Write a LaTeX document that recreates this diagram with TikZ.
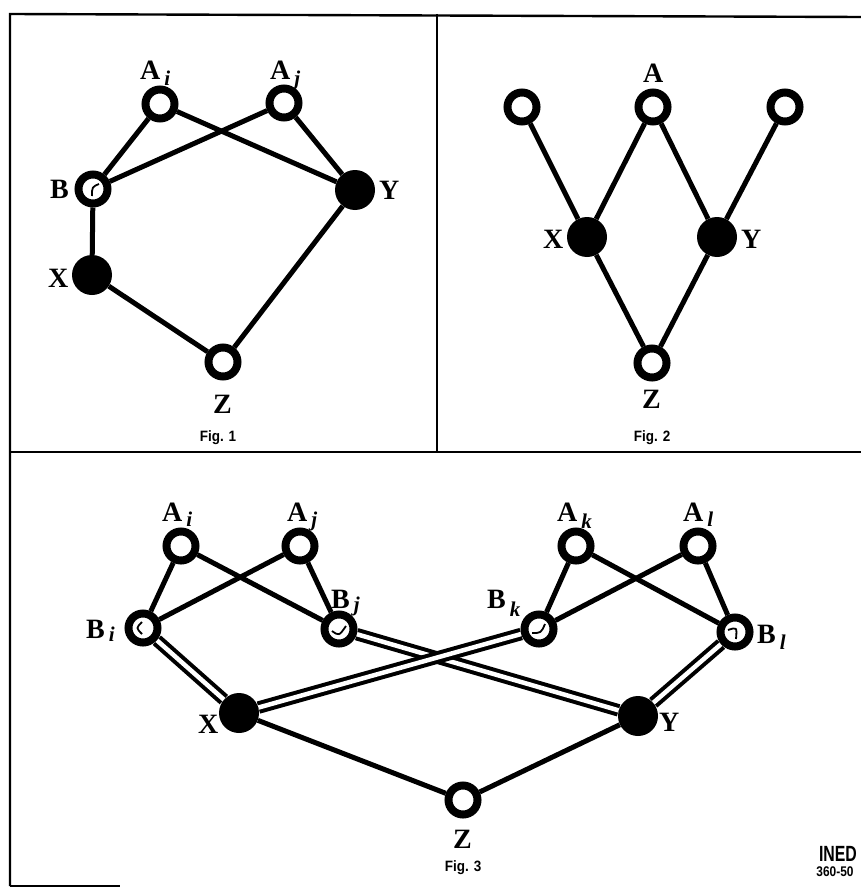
\documentclass[tikz,border=0pt]{standalone}
\usepackage{fontspec}
\setmainfont{Liberation Serif}
\setsansfont{Liberation Sans}
\usetikzlibrary{backgrounds}
% italic index set after a capital letter, lowered by the optional amount
\newcommand\lsub[2][6]{\kern4pt\raisebox{-#1pt}{\fontsize{21}{21}\selectfont\bfseries\itshape #2}}
\begin{document}
\begin{tikzpicture}[x=1pt,y=-1pt,
  open/.style={circle,draw,line width=8pt,fill=white,minimum size=29pt,inner sep=0pt},
  full/.style={circle,fill=black,minimum size=40pt,inner sep=0pt},
  edge/.style={line width=5pt},
  twin/.style={line width=4pt,double=white,double distance=4.5pt},
  lab/.style={font=\fontsize{28}{28}\selectfont\bfseries,inner sep=0pt,anchor=base west},
  figcap/.style={font=\sffamily\bfseries\fontsize{15}{15}\selectfont,inner sep=0pt},
  frame/.style={line width=2.4pt},
  hatch/.style={line width=1.8pt}]
\useasboundingbox (0,0) rectangle (861,888);

% panel frame
\draw[frame] (10,886) -- (10,14) -- (861,17);
\draw[frame] (437,14) -- (437,452);
\draw[frame] (10,452) -- (861,452);
\draw[frame] (10,886) -- (120,886);

% ---------- Fig. 1 ----------
\node[open] (a1i) at (160,104) {};
\node[open] (a1j) at (284,103) {};
\node[open] (b1)  at (93,189) {};
\node[full] (y1)  at (355,190) {};
\node[full] (x1)  at (92,275) {};
\node[open] (z1)  at (223,362) {};
\begin{scope}[on background layer]
  \draw[edge] (a1i) -- (b1);
  \draw[edge] (a1i) -- (y1);
  \draw[edge] (a1j) -- (b1);
  \draw[edge] (a1j) -- (y1);
  \draw[edge] (b1) -- (x1);
  \draw[edge] (x1) -- (z1);
  \draw[edge] (z1) -- (y1);
\end{scope}
\draw[hatch] ([shift={(6,-5)}]b1.center) .. controls ([shift={(-1,-2)}]b1.center) .. ([shift={(-1,7)}]b1.center);
\node[lab] at (140,80) {A\lsub{i}};
\node[lab] at (270,80) {A\lsub{j}};
\node[lab] at (50,198) {B};
\node[lab] at (379,199) {Y};
\node[lab] at (48,287) {X};
\node[lab] at (213,413) {Z};
\node[figcap] at (218,438) {\scalebox{0.9}[1]{Fig. 1}};

% ---------- Fig. 2 ----------
\node[open] (a2l) at (522,107) {};
\node[open] (a2)  at (653,107) {};
\node[open] (a2r) at (785,107) {};
\node[full] (x2)  at (587,237) {};
\node[full] (y2)  at (717,237) {};
\node[open] (z2)  at (652,363) {};
\begin{scope}[on background layer]
  \draw[edge] (a2l) -- (x2);
  \draw[edge] (a2) -- (x2);
  \draw[edge] (a2) -- (y2);
  \draw[edge] (a2r) -- (y2);
  \draw[edge] (x2) -- (z2);
  \draw[edge] (y2) -- (z2);
\end{scope}
\node[lab] at (643,83) {A};
\node[lab] at (543,248) {X};
\node[lab] at (741,248) {Y};
\node[lab] at (642,408) {Z};
\node[figcap] at (652,438) {\scalebox{0.9}[1]{Fig. 2}};

% ---------- Fig. 3 ----------
\node[open] (a3i) at (181,546) {};
\node[open] (a3j) at (300,546) {};
\node[open] (a3k) at (576,546) {};
\node[open] (a3l) at (698,546) {};
\node[open] (b3i) at (143,628) {};
\node[open] (b3j) at (339,629) {};
\node[open] (b3k) at (539,629) {};
\node[open] (b3l) at (735,632) {};
\node[full] (x3)  at (239,713) {};
\node[full] (y3)  at (638,716) {};
\node[open] (z3)  at (463,800) {};
\begin{scope}[on background layer]
  \draw[edge] (a3i) -- (b3i);
  \draw[edge] (a3i) -- (b3j);
  \draw[edge] (a3j) -- (b3i);
  \draw[edge] (a3j) -- (b3j);
  \draw[edge] (a3k) -- (b3k);
  \draw[edge] (a3k) -- (b3l);
  \draw[edge] (a3l) -- (b3k);
  \draw[edge] (a3l) -- (b3l);
  \draw[twin] (b3i) -- (x3);
  \draw[twin] (b3j) -- (y3);
  \draw[twin] (b3k) -- (x3);
  \draw[twin] (b3l) -- (y3);
  \draw[edge] (x3) -- (z3);
  \draw[edge] (y3) -- (z3);
\end{scope}
\draw[hatch] ([shift={(-1,-6)}]b3i.center) .. controls ([shift={(-7,0)}]b3i.center) .. ([shift={(-1,6)}]b3i.center);
\draw[hatch] ([shift={(-7,2)}]b3j.center) .. controls ([shift={(0,7)}]b3j.center) .. ([shift={(7,-3)}]b3j.center);
\draw[hatch] ([shift={(-7,4)}]b3k.center) .. controls ([shift={(2,4)}]b3k.center) .. ([shift={(6,-5)}]b3k.center);
\draw[hatch] ([shift={(-7,-2)}]b3l.center) .. controls ([shift={(2,-5)}]b3l.center) .. ([shift={(1,7)}]b3l.center);
\node[lab] at (162,521) {A\lsub[5]{i}};
\node[lab] at (287,521) {A\lsub[5]{j}};
\node[lab] at (557,521) {A\lsub[7]{k}};
\node[lab] at (683,521) {A\lsub[5]{l}};
\node[lab] at (86,638) {B\lsub[3]{i}};
\node[lab] at (331,608) {B\lsub[3]{j}};
\node[lab] at (487,608) {B\lsub[8]{k}};
\node[lab] at (757,643) {B\lsub{l}};
\node[lab] at (198,733) {X};
\node[lab] at (659,731) {Y};
\node[lab] at (453,848) {Z};
\node[figcap] at (463,868) {\scalebox{0.9}[1]{Fig. 3}};
\node[font=\sffamily\bfseries\fontsize{22}{22}\selectfont,inner sep=0pt] at (838,854) {\scalebox{0.72}[1]{INED}};
\node[font=\sffamily\bfseries\fontsize{14}{14}\selectfont,inner sep=0pt] at (835,872) {\scalebox{0.85}[1]{360-50}};
\end{tikzpicture}
\end{document}
